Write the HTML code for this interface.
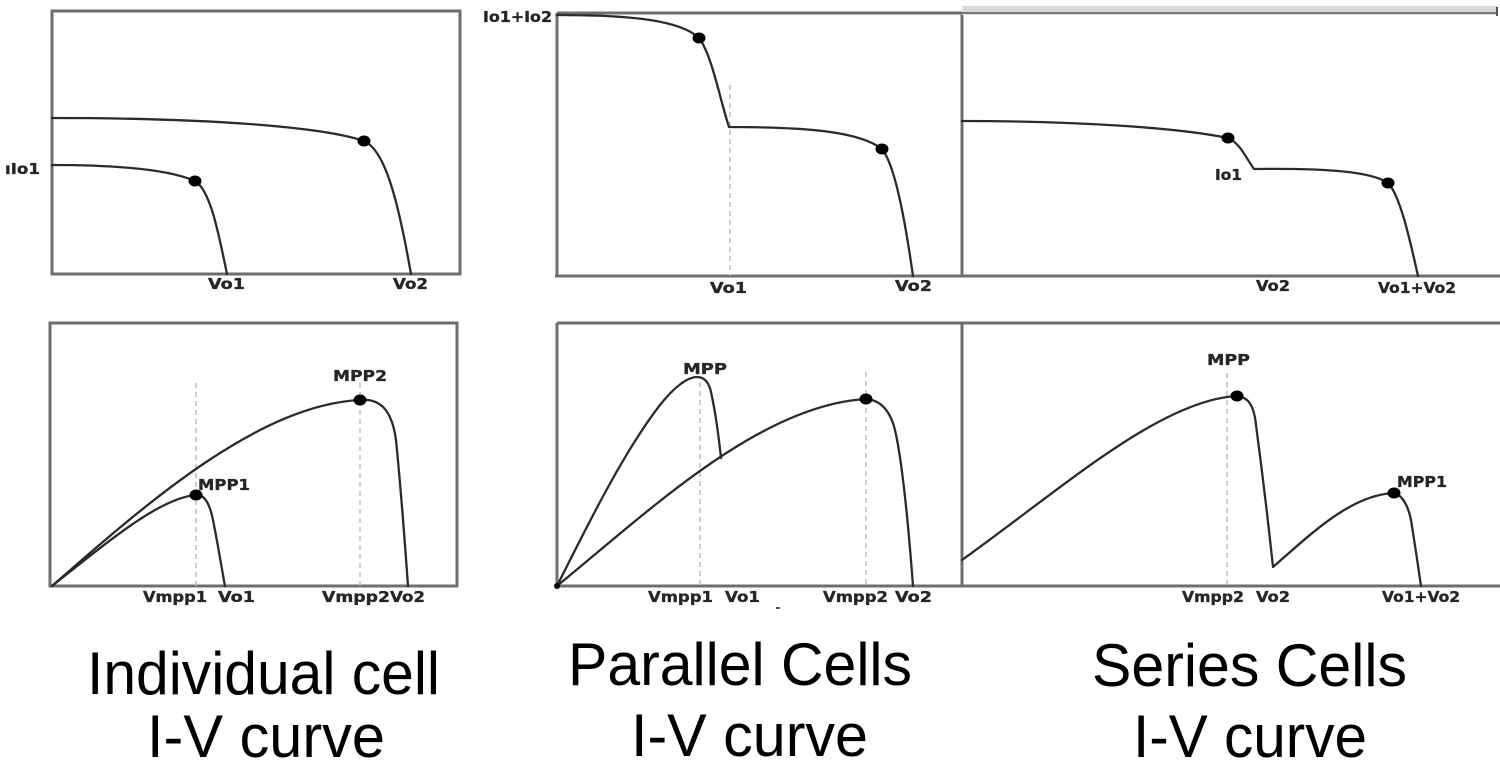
<!DOCTYPE html>
<html>
<head>
<meta charset="utf-8">
<style>
  html, body { margin:0; padding:0; background:#fff; }
  svg { display:block; }
  .ax { stroke:#6e6e6e; stroke-width:3; fill:none; }
  .cv { stroke:#2b2b2b; stroke-width:2.3; fill:none; stroke-linejoin:round; stroke-linecap:round; }
  .ds { stroke:#bdbdbd; stroke-width:1.5; stroke-dasharray:5 4; fill:none; }
  .lb { font-family:"DejaVu Sans", "Liberation Sans", sans-serif; font-weight:bold; font-size:15px; fill:#262626; stroke:#262626; stroke-width:0.35; }
  .cap { font-family:"Liberation Sans", Arial, sans-serif; font-size:60px; fill:#000; }
</style>
</head>
<body>
<svg width="1500" height="769" viewBox="0 0 1500 769" xmlns="http://www.w3.org/2000/svg">
  <rect x="0" y="0" width="1500" height="769" fill="#fff"/>

  <!-- ===== Top-left panel ===== -->
  <rect class="ax" x="52" y="11" width="408" height="263"/>
  <path class="cv" d="M52,118 C200,118 320,126 364,141 C385,150 398,200 411,274"/>
  <path class="cv" d="M52,165 C120,165 170,170 195,181 C210,190 218,230 227,274"/>
  <ellipse cx="364" cy="141" rx="6.5" ry="5.5" fill="#000"/>
  <ellipse cx="195" cy="181" rx="6.5" ry="5.5" fill="#000"/>
  <text class="lb" x="5" y="174" textLength="35" lengthAdjust="spacingAndGlyphs">ıIo1</text>
  <text class="lb" x="208" y="289" textLength="37" lengthAdjust="spacingAndGlyphs">Vo1</text>
  <text class="lb" x="393" y="289" textLength="35" lengthAdjust="spacingAndGlyphs">Vo2</text>

  <!-- ===== Top-middle panel ===== -->
  <line class="ax" x1="557" y1="13" x2="557" y2="276"/>
  <line class="ax" x1="555" y1="276" x2="1500" y2="276"/>
  <line class="ax" x1="557" y1="13" x2="962" y2="13"/>
  <line class="ax" x1="962" y1="13" x2="962" y2="276"/>
  <line class="ds" x1="730" y1="85" x2="730" y2="276"/>
  <path class="cv" d="M557,15 C630,15 680,20 699,38 C712,55 720,100 729,127 C810,127 860,132 882,149 C895,165 905,220 913,276"/>
  <ellipse cx="699" cy="38" rx="6.5" ry="5.5" fill="#000"/>
  <ellipse cx="882" cy="149" rx="6.5" ry="5.5" fill="#000"/>
  <text class="lb" x="483" y="22" textLength="69" lengthAdjust="spacingAndGlyphs">Io1+Io2</text>
  <text class="lb" x="710" y="293" textLength="37" lengthAdjust="spacingAndGlyphs">Vo1</text>
  <text class="lb" x="895" y="291" textLength="37" lengthAdjust="spacingAndGlyphs">Vo2</text>

  <!-- ===== Top-right panel ===== -->
  <rect x="962" y="6" width="536" height="9" fill="#dadada"/>
  <line x1="962" y1="13" x2="1497" y2="13" stroke="#7a7a7a" stroke-width="2"/>
  <line x1="1497" y1="7" x2="1497" y2="16" stroke="#555" stroke-width="2"/>
  <path class="cv" d="M962,121 C1080,121 1180,128 1228,138 C1240,143 1246,158 1254,169 C1330,168 1372,172 1388,183 C1400,195 1410,240 1418,276"/>
  <ellipse cx="1228" cy="138" rx="6.5" ry="5.5" fill="#000"/>
  <ellipse cx="1388" cy="183" rx="6.5" ry="5.5" fill="#000"/>
  <text class="lb" x="1215" y="180" textLength="27" lengthAdjust="spacingAndGlyphs">Io1</text>
  <text class="lb" x="1256" y="291" textLength="34" lengthAdjust="spacingAndGlyphs">Vo2</text>
  <text class="lb" x="1378" y="293" textLength="78" lengthAdjust="spacingAndGlyphs">Vo1+Vo2</text>

  <!-- ===== Bottom-left panel ===== -->
  <rect class="ax" x="50" y="323" width="407" height="263"/>
  <line class="ds" x1="196" y1="383" x2="196" y2="586"/>
  <line class="ds" x1="360" y1="383" x2="360" y2="586"/>
  <path class="cv" d="M52,586 C150,500 260,405 360,400 C380,398 392,410 396,440 C400,480 404,530 408,586"/>
  <path class="cv" d="M52,586 C110,540 160,498 196,495 C205,494 210,505 213,520 C218,545 222,570 225,586"/>
  <ellipse cx="360" cy="400" rx="6.5" ry="5.5" fill="#000"/>
  <ellipse cx="196" cy="495" rx="6.5" ry="5.5" fill="#000"/>
  <text class="lb" x="333" y="381" textLength="54" lengthAdjust="spacingAndGlyphs">MPP2</text>
  <text class="lb" x="198" y="490" textLength="52" lengthAdjust="spacingAndGlyphs">MPP1</text>
  <text class="lb" x="143" y="602" textLength="64" lengthAdjust="spacingAndGlyphs">Vmpp1</text>
  <text class="lb" x="218" y="602" textLength="37" lengthAdjust="spacingAndGlyphs">Vo1</text>
  <text class="lb" x="322" y="602" textLength="68" lengthAdjust="spacingAndGlyphs">Vmpp2</text>
  <text class="lb" x="390" y="602" textLength="35" lengthAdjust="spacingAndGlyphs">Vo2</text>

  <!-- ===== Bottom-middle panel ===== -->
  <line class="ax" x1="557" y1="323" x2="557" y2="586"/>
  <line class="ax" x1="555" y1="586" x2="1500" y2="586"/>
  <line class="ax" x1="557" y1="323" x2="1500" y2="323"/>
  <line class="ax" x1="962" y1="323" x2="962" y2="586"/>
  <line class="ds" x1="700" y1="382" x2="700" y2="586"/>
  <line class="ds" x1="866" y1="372" x2="866" y2="586"/>
  <path class="cv" d="M557,586 C590,520 625,450 660,405 C675,386 688,377 697,377 C705,377 709,383 711,392 C715,410 718,430 721,458"/>
  <path class="cv" d="M557,586 C650,510 760,405 866,399 C880,400 890,410 895,430 C902,460 908,520 913,586"/>
  <ellipse cx="866" cy="399" rx="6.5" ry="5.5" fill="#000"/>
  <circle cx="557" cy="586" r="3" fill="#000"/>
  <text class="lb" x="683" y="374" textLength="44" lengthAdjust="spacingAndGlyphs">MPP</text>
  <text class="lb" x="648" y="602" textLength="65" lengthAdjust="spacingAndGlyphs">Vmpp1</text>
  <text class="lb" x="725" y="602" textLength="35" lengthAdjust="spacingAndGlyphs">Vo1</text>
  <text class="lb" x="823" y="602" textLength="65" lengthAdjust="spacingAndGlyphs">Vmpp2</text>
  <text class="lb" x="895" y="602" textLength="37" lengthAdjust="spacingAndGlyphs">Vo2</text>
  <line x1="776" y1="608" x2="780" y2="608" stroke="#555" stroke-width="2"/>

  <!-- ===== Bottom-right panel ===== -->
  <line class="ds" x1="1227" y1="373" x2="1227" y2="586"/>
  <path class="cv" d="M962,560 C1060,490 1160,400 1237,396 C1248,397 1254,405 1256,425 C1262,470 1268,520 1273,567 C1310,535 1350,495 1394,493 C1402,495 1408,505 1411,520 C1415,545 1418,565 1421,586"/>
  <ellipse cx="1237" cy="396" rx="6.5" ry="5.5" fill="#000"/>
  <ellipse cx="1394" cy="493" rx="6.5" ry="5.5" fill="#000"/>
  <text class="lb" x="1207" y="365" textLength="43" lengthAdjust="spacingAndGlyphs">MPP</text>
  <text class="lb" x="1397" y="487" textLength="50" lengthAdjust="spacingAndGlyphs">MPP1</text>
  <text class="lb" x="1182" y="602" textLength="62" lengthAdjust="spacingAndGlyphs">Vmpp2</text>
  <text class="lb" x="1256" y="602" textLength="34" lengthAdjust="spacingAndGlyphs">Vo2</text>
  <text class="lb" x="1382" y="602" textLength="78" lengthAdjust="spacingAndGlyphs">Vo1+Vo2</text>

  <!-- ===== Captions ===== -->
  <text class="cap" x="87" y="694" textLength="353" lengthAdjust="spacingAndGlyphs">Individual cell</text>
  <text class="cap" x="147" y="757" textLength="238" lengthAdjust="spacingAndGlyphs">I-V curve</text>
  <text class="cap" x="568" y="685" textLength="344" lengthAdjust="spacingAndGlyphs">Parallel Cells</text>
  <text class="cap" x="631" y="756" textLength="237" lengthAdjust="spacingAndGlyphs">I-V curve</text>
  <text class="cap" x="1092" y="686" textLength="315" lengthAdjust="spacingAndGlyphs">Series Cells</text>
  <text class="cap" x="1133" y="757" textLength="234" lengthAdjust="spacingAndGlyphs">I-V curve</text>
</svg>
</body>
</html>
